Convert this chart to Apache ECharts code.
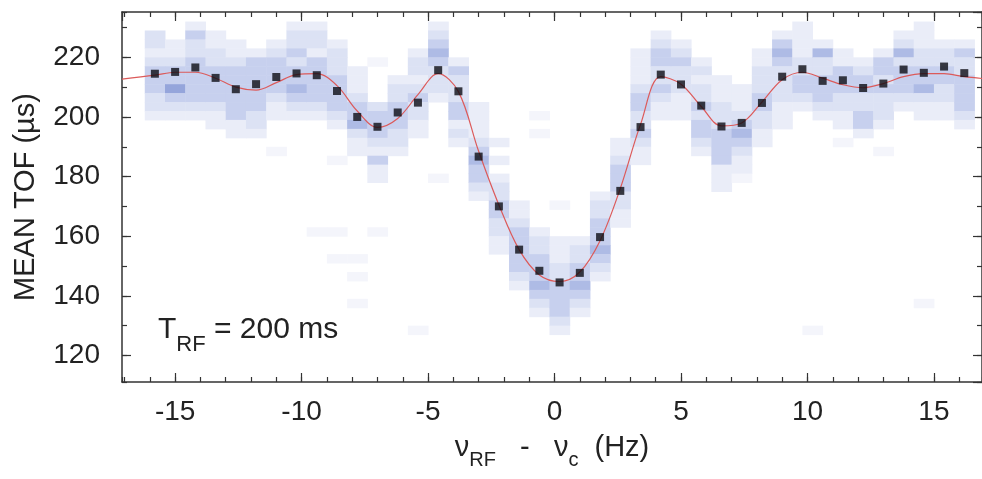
<!DOCTYPE html>
<html><head><meta charset="utf-8">
<script src="https://cdn.jsdelivr.net/npm/echarts@6/dist/echarts.min.js"></script>
<style>html,body{margin:0;padding:0;background:#fff}#c{width:982px;height:479px}</style>
</head><body><div id="c"></div>
<script>
// Frequency detuning of each measured point (Hz)
const freq = [-15.8,-15.0,-14.2,-13.4,-12.6,-11.8,-11.0,-10.2,-9.4,-8.6,-7.8,-7.0,-6.2,-5.4,-4.6,-3.8,-3.0,-2.2,-1.4,-0.6,0.2,1.0,1.8,2.6,3.4,4.2,5.0,5.8,6.6,7.4,8.2,9.0,9.8,10.6,11.4,12.2,13.0,13.8,14.6,15.4,16.2];
// Mean time of flight (µs)
const meanTof = [214.5,215.1,216.6,213.1,209.3,211.0,213.4,214.6,214.0,208.7,200.0,196.7,201.5,204.8,215.7,208.6,186.7,170.0,155.5,148.4,144.5,147.7,159.7,175.2,196.6,214.2,210.9,203.8,196.8,198.0,204.7,213.5,216.0,212.1,212.3,209.7,211.2,215.9,214.8,216.9,214.7];
// Fit curve
const fitFreq = [-17.1,-15.8,-15.0,-14.2,-13.4,-12.6,-11.8,-11.0,-10.2,-9.4,-8.6,-7.8,-7.0,-6.2,-5.4,-4.6,-3.8,-3.0,-2.2,-1.4,-0.6,0.2,1.0,1.8,2.6,3.4,4.2,5.0,5.8,6.6,7.4,8.2,9.0,9.8,10.6,11.4,12.2,13.0,13.8,14.6,15.4,16.2,16.9];
const fitTof = [212.7,214.0,215.0,215.0,213.0,210.0,209.0,211.5,214.2,214.5,210.5,202.0,196.5,199.5,207.5,214.5,208.5,188.5,170.5,155.5,147.0,144.8,148.0,158.5,176.0,197.5,213.5,211.0,203.5,197.0,198.0,205.0,212.5,215.0,213.0,210.8,209.8,211.2,213.5,214.5,214.5,213.5,212.9];
// Histogram of single-shot TOF: per column, top edge of highest bin (µs) and levels downward
const histTop = [229,229,232,229,229,223,226,232,232,226,217,205,214,223,232,220,205,193,172,163,160,160,175,193,223,229,226,220,214,211,223,229,232,226,223,220,223,229,232,226,226];
const histLevels = ["2212333221","0112335321","13223333321","11223333211","011233333311","1333333221","123333211","12232334321","12213333321","1222333321","1112334211","233321311","122333221","1221232211","123432221","1322233121","11112343321","1010122332211","1123333321","1223334321","11122333321","122334321","1223334321","1123332211","1111233223211","1233223211","123222111","12122323321","1112223333111","1112343211","11222332211","13432222111","1111223321","142233321","113332211","123322331","133232221","124233321","11122334211","122332211","1322333321"];
// Sparse faint bins: [freq, top edge]
const faintCells = [[-9.4,163],[-8.6,163],[-8.6,154],[-7.8,154],[-7.8,148],[-7.8,139],[-7.0,163],[-5.4,130],[-0.6,202],[-0.6,196],[0.2,172],[-7.0,220],[-8.6,187],[-4.6,181],[14.6,139],[10.2,130],[13.0,190],[11.4,193],[7.4,181],[-11.0,190]];
const binWidth = 0.8, binHeight = 3;

const heatData = [];
histTop.forEach((top, i) => {
  histLevels[i].split('').forEach((ch, j) => {
    const lv = +ch;
    if (lv > 0) heatData.push([freq[i], top - binHeight * (j + 1), lv]);
  });
});
faintCells.forEach(c => heatData.push([c[0], c[1] - binHeight, 0.5]));

const palette = {0.5:'#f4f5fb', 1:'#eaedf8', 2:'#dce2f4', 3:'#c7d0ee', 4:'#aebbe5', 5:'#95a5db'};
const FONT = 'Liberation Sans, Arial, sans-serif';
const axisColor = '#333';

const xBase = {type:'value', min:-17.1, max:16.9, splitLine:{show:false}};
const yBase = {type:'value', min:111.1, max:235.2, splitLine:{show:false}};
const lineOn = {show:true, onZero:false, lineStyle:{color:axisColor, width:1.5}};
const lineOff = {show:false, onZero:false};
const majT = {show:true, inside:true, length:9, lineStyle:{color:axisColor, width:1.2}};
const minT = {show:true, inside:true, length:5, lineStyle:{color:axisColor, width:1.2}};

const chart = echarts.init(document.getElementById('c'), null, {renderer:'canvas'});
chart.setOption({
  animation:false,
  backgroundColor:'#fff',
  grid:{left:122, top:12, right:0, bottom:97, containLabel:false},
  xAxis:[
    Object.assign({}, xBase, {position:'bottom', minInterval:5, maxInterval:5, axisLine:lineOn, axisTick:majT,
      axisLabel:{show:true, margin:16, fontSize:28, color:'#222', fontFamily:FONT, showMinLabel:false, showMaxLabel:false},
      name:'{n|ν}{s|RF}{n|   -   ν}{s|c}{n|  (Hz)}', nameLocation:'middle', nameGap:44,
      nameTextStyle:{rich:{
        n:{fontSize:29, fontFamily:FONT, color:'#222', lineHeight:44, verticalAlign:'middle'},
        s:{fontSize:20, fontFamily:FONT, color:'#222', lineHeight:44, verticalAlign:'bottom'}
      }}}),
    Object.assign({}, xBase, {position:'bottom', minInterval:1, maxInterval:1, axisLine:lineOff, axisTick:minT, axisLabel:{show:false}}),
    Object.assign({}, xBase, {position:'top', minInterval:5, maxInterval:5, axisLine:lineOn, axisTick:majT, axisLabel:{show:false}}),
    Object.assign({}, xBase, {position:'top', minInterval:1, maxInterval:1, axisLine:lineOff, axisTick:minT, axisLabel:{show:false}})
  ],
  yAxis:[
    Object.assign({}, yBase, {position:'left', minInterval:20, maxInterval:20, axisLine:lineOn, axisTick:majT,
      axisLabel:{show:true, margin:22, fontSize:28, color:'#222', fontFamily:FONT, showMinLabel:false, showMaxLabel:false},
      name:'MEAN TOF (µs)', nameLocation:'middle', nameGap:82, nameRotate:90,
      nameTextStyle:{fontSize:29, fontFamily:FONT, color:'#222'}}),
    Object.assign({}, yBase, {position:'left', minInterval:10, maxInterval:10, axisLine:lineOff, axisTick:minT, axisLabel:{show:false}}),
    Object.assign({}, yBase, {position:'right', minInterval:20, maxInterval:20, axisLine:lineOn, axisTick:majT, axisLabel:{show:false}}),
    Object.assign({}, yBase, {position:'right', minInterval:10, maxInterval:10, axisLine:lineOff, axisTick:minT, axisLabel:{show:false}})
  ],
  graphic:[{
    type:'text', left:158, top:315, z:10,
    style:{
      text:'{t|T}{s|RF}{t| = 200 ms}',
      rich:{
        t:{fontSize:30, fontFamily:FONT, fill:'#222', lineHeight:51, verticalAlign:'middle'},
        s:{fontSize:22, fontFamily:FONT, fill:'#222', lineHeight:51, verticalAlign:'bottom'}
      }
    }
  }],
  series:[
    {
      type:'custom', xAxisIndex:0, yAxisIndex:0, z:1, clip:true,
      data:heatData,
      renderItem:function(params, api){
        const x = api.value(0), y0 = api.value(1), lv = api.value(2);
        const p0 = api.coord([x - binWidth/2, y0 + binHeight]);
        const p1 = api.coord([x + binWidth/2, y0]);
        return {type:'rect', shape:{x:p0[0], y:p0[1], width:p1[0]-p0[0]+0.5, height:p1[1]-p0[1]+0.5},
          style:{fill:palette[lv]}};
      }
    },
    {
      type:'line', xAxisIndex:0, yAxisIndex:0, z:2, smooth:0.35, showSymbol:false, symbol:'none',
      data:fitFreq.map((x,i)=>[x, fitTof[i]]),
      lineStyle:{color:'#dc5a5a', width:1.2}
    },
    {
      type:'scatter', xAxisIndex:0, yAxisIndex:0, z:3, symbol:'rect', symbolSize:8,
      data:freq.map((x,i)=>[x, meanTof[i]]),
      itemStyle:{color:'#0c0c14'}
    }
  ]
});
</script></body></html>
